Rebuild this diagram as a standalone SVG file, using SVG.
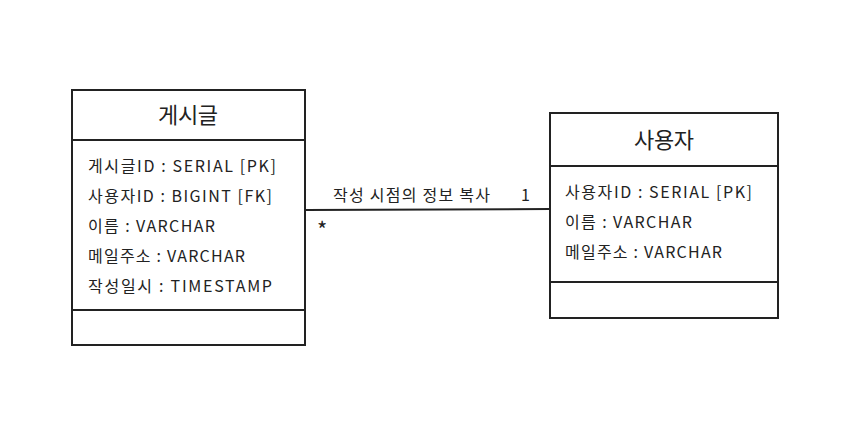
<svg xmlns="http://www.w3.org/2000/svg" width="867" height="446" viewBox="0 0 867 446">
<style>
.box{fill:#fff;stroke:#222;stroke-width:2}
.ln{stroke:#222;stroke-width:2;fill:none}
text{font-family:"Noto Sans CJK KR","Liberation Sans",sans-serif;fill:#222}
.t{font-size:22px;text-anchor:middle}
.a{font-size:16px}
</style>
<rect width="867" height="446" fill="#fff"/>
<g id="edges">
<line class="ln" x1="305" y1="210" x2="550" y2="209"/>
<text class="a" x="333" y="201" textLength="157" lengthAdjust="spacing">작성 시점의 정보 복사</text>
<text class="a" x="521" y="201">1</text>
<text x="317" y="238" style="font-size:22px">*</text>
</g>
<g id="post">
<rect class="box" x="72" y="90" width="233" height="255"/>
<line class="ln" x1="72" y1="140" x2="305" y2="140"/>
<line class="ln" x1="72" y1="310" x2="305" y2="310"/>
<text class="t" x="188" y="123" textLength="60" lengthAdjust="spacing">게시글</text>
<text class="a" x="88" y="172" textLength="188" lengthAdjust="spacing">게시글ID : SERIAL [PK]</text>
<text class="a" x="88" y="202" textLength="184" lengthAdjust="spacing">사용자ID : BIGINT [FK]</text>
<text class="a" x="88" y="232" textLength="127" lengthAdjust="spacing">이름 : VARCHAR</text>
<text class="a" x="88" y="262" textLength="157" lengthAdjust="spacing">메일주소 : VARCHAR</text>
<text class="a" x="88" y="292" textLength="184" lengthAdjust="spacing">작성일시 : TIMESTAMP</text>
</g>
<g id="user">
<rect class="box" x="550" y="113" width="228" height="205"/>
<line class="ln" x1="550" y1="166" x2="778" y2="166"/>
<line class="ln" x1="550" y1="282" x2="778" y2="282"/>
<text class="t" x="664" y="148" textLength="60" lengthAdjust="spacing">사용자</text>
<text class="a" x="565" y="198" textLength="187" lengthAdjust="spacing">사용자ID : SERIAL [PK]</text>
<text class="a" x="565" y="228" textLength="127" lengthAdjust="spacing">이름 : VARCHAR</text>
<text class="a" x="565" y="258" textLength="157" lengthAdjust="spacing">메일주소 : VARCHAR</text>
</g>
</svg>
